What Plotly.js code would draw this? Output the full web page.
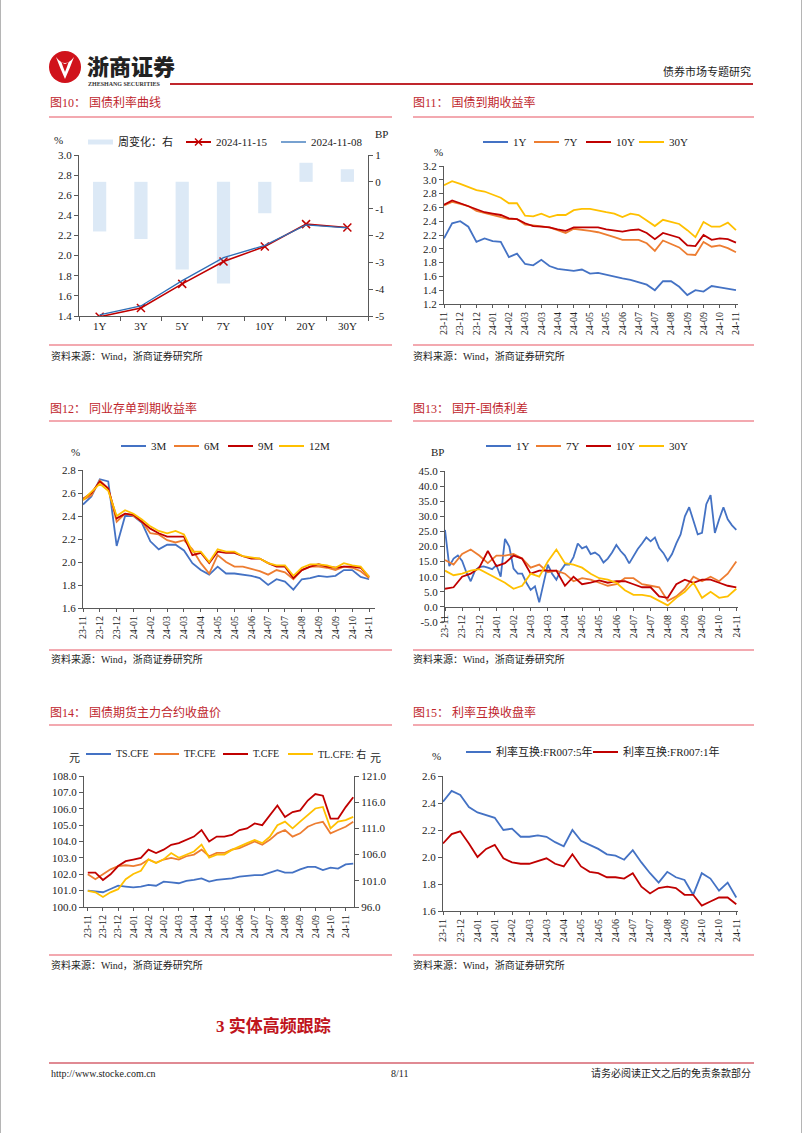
<!DOCTYPE html>
<html><head><meta charset="utf-8">
<script src="https://cdn.plot.ly/plotly-3.0.1.min.js"></script>
<style>
body{margin:0;background:#fff;}
#page{position:relative;width:802px;height:1133px;overflow:hidden;background:#fff;box-sizing:border-box;border-left:1px solid #b5b5b5;border-right:1px solid #b5b5b5;font-family:'Liberation Serif','Noto Sans CJK SC',serif;}
.abs{position:absolute;white-space:nowrap;line-height:1;}
.ttl{color:#c0262d;font-size:12px;}
.uline{position:absolute;height:2px;background:#f3a9b0;}
.src{font-size:10px;color:#222;}
.chart{position:absolute;}
</style></head>
<body><div id="page">
<!-- header -->
<svg class="abs" style="left:47px;top:50px" width="34" height="34" viewBox="0 0 34 34">
<circle cx="17" cy="17" r="16" fill="#d0121b"/>
<path d="M8 7 Q17 19 26 7 Q22 18 17 29 Q12 18 8 7Z" fill="#fff"/>
<path d="M13 11 Q17 17 21 11 Q19 17 17 22 Q15 17 13 11Z" fill="#d0121b"/>
</svg>
<div class="abs" style="left:86px;top:54px;font-family:'Noto Sans CJK SC';font-weight:900;font-size:22px;color:#222;">浙商证券</div>
<div class="abs" style="left:87px;top:81px;font-family:'Liberation Serif';font-weight:bold;font-size:6px;color:#333;">ZHESHANG SECURITIES</div>
<div class="abs" style="left:169px;top:83px;width:583px;height:2px;background:#c0262d;"></div>
<div class="abs" style="right:50px;top:67px;font-size:11px;color:#222;">债券市场专题研究</div>

<!-- row 1 -->
<div class="abs ttl" style="left:49px;top:97px;">图10：&nbsp;国债利率曲线</div>
<div class="uline" style="left:48px;top:116px;width:343px;"></div>
<div class="abs ttl" style="left:412px;top:97px;">图11：&nbsp;国债到期收益率</div>
<div class="uline" style="left:412px;top:116px;width:341px;"></div>
<div id="c10" class="chart"></div>
<div id="c11" class="chart"></div>
<div class="uline" style="left:48px;top:344px;width:343px;"></div>
<div class="uline" style="left:412px;top:344px;width:341px;"></div>
<div class="abs src" style="left:50px;top:352px;">资料来源：Wind，浙商证券研究所</div>
<div class="abs src" style="left:412px;top:352px;">资料来源：Wind，浙商证券研究所</div>

<!-- row 2 -->
<div class="abs ttl" style="left:49px;top:403px;">图12：&nbsp;同业存单到期收益率</div>
<div class="uline" style="left:48px;top:420px;width:343px;"></div>
<div class="abs ttl" style="left:412px;top:403px;">图13：&nbsp;国开-国债利差</div>
<div class="uline" style="left:412px;top:420px;width:341px;"></div>
<div id="c12" class="chart"></div>
<div id="c13" class="chart"></div>
<div class="uline" style="left:48px;top:649px;width:343px;"></div>
<div class="uline" style="left:412px;top:649px;width:341px;"></div>
<div class="abs src" style="left:50px;top:655px;">资料来源：Wind，浙商证券研究所</div>
<div class="abs src" style="left:412px;top:655px;">资料来源：Wind，浙商证券研究所</div>

<!-- row 3 -->
<div class="abs ttl" style="left:49px;top:707px;">图14：&nbsp;国债期货主力合约收盘价</div>
<div class="uline" style="left:48px;top:724px;width:343px;"></div>
<div class="abs ttl" style="left:412px;top:707px;">图15：&nbsp;利率互换收盘率</div>
<div class="uline" style="left:412px;top:724px;width:341px;"></div>
<div id="c14" class="chart"></div>
<div id="c15" class="chart"></div>
<div class="uline" style="left:48px;top:954px;width:343px;"></div>
<div class="uline" style="left:412px;top:954px;width:341px;"></div>
<div class="abs src" style="left:50px;top:961px;">资料来源：Wind，浙商证券研究所</div>
<div class="abs src" style="left:412px;top:961px;">资料来源：Wind，浙商证券研究所</div>

<!-- section + footer -->
<div class="abs" style="left:215px;top:1018px;font-size:17px;font-weight:bold;color:#c0141c;font-family:'Liberation Serif','Noto Sans CJK SC';">3 实体高频跟踪</div>
<div class="abs" style="left:48px;top:1062px;width:705px;height:1.5px;background:#e08a93;"></div>
<div class="abs src" style="left:50px;top:1069px;">http://www.stocke.com.cn</div>
<div class="abs src" style="left:390px;top:1069px;">8/11</div>
<div class="abs src" style="right:50px;top:1069px;">请务必阅读正文之后的免责条款部分</div>
</div>
<script>
// ---------------- DATA ----------------
// 图10
const c10_tenors = ['1Y','3Y','5Y','7Y','10Y','20Y','30Y'];
const c10_change = [-1.85,-2.13,-3.27,-3.79,-1.17,0.71,0.47];
const c10_y1115 = [1.393,1.479,1.719,1.942,2.090,2.313,2.280];
const c10_y1108 = [1.411,1.500,1.752,1.980,2.102,2.306,2.275];
const c10_rticks = [1,0,-1,-2,-3,-4,-5];
const c10_rtext = ['1','0','-1','-2','-3','-4','-5'];

// 图11
const c11_labels = ['23-11','23-12','23-12','24-01','24-02','24-03','24-03','24-04','24-04','24-05','24-05','24-06','24-07','24-07','24-08','24-09','24-09','24-10','24-11'];
const c11_1y  = [2.15,2.37,2.40,2.32,2.10,2.15,2.11,2.10,1.88,1.93,1.78,1.76,1.84,1.75,1.71,1.69,1.68,1.70,1.64,1.65,1.62,1.60,1.57,1.55,1.52,1.48,1.40,1.53,1.53,1.45,1.33,1.40,1.38,1.46,1.44,1.42,1.40];
const c11_7y  = [2.63,2.68,2.65,2.62,2.55,2.52,2.50,2.47,2.43,2.43,2.35,2.34,2.33,2.31,2.27,2.23,2.29,2.28,2.26,2.24,2.21,2.17,2.13,2.13,2.13,2.08,1.97,2.12,2.07,2.02,1.92,1.91,2.10,2.03,2.05,2.01,1.95];
const c11_10y = [2.64,2.70,2.66,2.62,2.57,2.53,2.51,2.49,2.44,2.43,2.37,2.33,2.32,2.31,2.28,2.26,2.31,2.31,2.32,2.31,2.28,2.26,2.25,2.27,2.28,2.23,2.14,2.23,2.19,2.16,2.05,2.04,2.20,2.13,2.15,2.14,2.09];
const c11_30y = [2.92,2.98,2.94,2.90,2.85,2.83,2.79,2.74,2.66,2.66,2.48,2.47,2.51,2.46,2.49,2.49,2.56,2.58,2.58,2.55,2.53,2.51,2.46,2.51,2.49,2.41,2.33,2.42,2.39,2.36,2.27,2.17,2.39,2.32,2.32,2.38,2.27];

// 图12
const c12_labels = ['23-11','23-12','23-12','24-01','24-02','24-03','24-03','24-04','24-05','24-05','24-06','24-07','24-07','24-08','24-09','24-09','24-10','24-11'];
const c12_3m  = [2.50,2.57,2.72,2.70,2.14,2.40,2.40,2.34,2.18,2.11,2.15,2.15,2.10,1.99,1.93,1.89,1.96,1.90,1.90,1.89,1.88,1.86,1.80,1.85,1.83,1.76,1.85,1.86,1.88,1.87,1.88,1.93,1.93,1.87,1.85];
const c12_6m  = [2.54,2.58,2.71,2.64,2.35,2.42,2.40,2.35,2.25,2.24,2.19,2.17,2.19,2.11,1.99,1.90,2.06,2.00,1.96,1.96,1.94,1.92,1.89,1.93,1.91,1.85,1.93,1.96,1.96,1.95,1.93,1.96,1.95,1.92,1.86];
const c12_9m  = [2.55,2.60,2.70,2.64,2.38,2.42,2.41,2.35,2.29,2.25,2.22,2.22,2.22,2.06,2.08,1.99,2.09,2.08,2.08,2.05,2.03,2.03,1.99,1.96,1.96,1.86,1.93,1.96,1.98,1.96,1.95,1.96,1.96,1.95,1.87];
const c12_12m = [2.54,2.61,2.68,2.62,2.40,2.45,2.42,2.37,2.31,2.27,2.25,2.27,2.24,2.09,2.09,2.00,2.11,2.09,2.09,2.05,2.04,2.03,1.99,1.97,1.97,1.88,1.95,1.98,1.98,1.97,1.95,1.99,1.97,1.96,1.87];

// 图13 (1Y read at quarter-label spacing, others at half-label spacing)
const c13_labels = ['23-11','23-12','23-12','24-01','24-02','24-03','24-03','24-04','24-05','24-05','24-06','24-07','24-07','24-08','24-09','24-09','24-10','24-11'];
const c13_1y  = [25.5,13.5,16,17,15.2,11.4,8.5,12,13.2,13.4,13,12.5,13.8,10,22.5,20,12.7,11,11,8,5.6,6.8,1.5,8,14,11,9,12,14,14,16.5,21,19.4,20,17.5,18,17,14.7,16,18,20.5,18.5,17,14.4,17,19.2,21,23,21.7,23,19.5,17.8,15.3,17.5,21,24,30,33,28.5,24,24.5,34,37,24.5,29,33,29,27,25.5];
const c13_7y  = [15.5,14,17.5,19,17,14.5,17,17,17.5,16,13,14,11.5,12,11,8.5,9.5,9,8,7,7.5,9.5,9.5,7.5,7,6.5,2,3.5,6,10,8.5,10,8.5,11,15];
const c13_10y = [6,6.5,10,11,13,18.5,13.5,14.5,17,16,11,12,12,12,7,10,7.5,8,8.8,8,8.5,8.5,7.5,6.5,6.5,3.5,3,7.5,9,8,9,9,8,7,6.5];
const c13_30y = [12,10.5,11,12,12.5,11,9.5,8,6,7,11,10,15,19,14.5,14,13,11,9.5,9,8,5.5,4,4,3.5,2,0.5,3,5,8,3,5,3,3.5,6];
const c13_yticks = [-5,0,5,10,15,20,25,30,35,40,45];
const c13_ytext = ['-5.0','0.0','5.0','10.0','15.0','20.0','25.0','30.0','35.0','40.0','45.0'];

// 图14
const c14_labels = ['23-11','23-12','23-12','24-01','24-02','24-02','24-03','24-04','24-04','24-05','24-06','24-07','24-07','24-08','24-09','24-09','24-10','24-11'];
const c14_ts = [101.0,100.95,100.9,101.1,101.3,101.25,101.2,101.25,101.35,101.3,101.55,101.5,101.45,101.6,101.65,101.75,101.55,101.65,101.7,101.75,101.85,101.9,101.95,101.95,102.1,102.25,102.1,102.1,102.3,102.45,102.45,102.25,102.4,102.35,102.6,102.65];
const c14_tf = [102.0,101.7,102.0,102.3,102.5,102.55,102.5,102.6,102.9,102.7,102.9,103.0,102.9,103.1,103.2,103.5,103.1,103.3,103.3,103.5,103.6,103.8,104.0,103.8,104.1,104.5,104.7,104.3,104.5,104.9,105.1,105.2,104.5,104.7,104.9,105.2];
const c14_t  = [102.1,102.1,101.65,102.0,102.5,102.8,102.9,103.0,103.5,103.3,103.5,103.8,103.9,104.1,104.3,104.7,104.0,104.3,104.3,104.4,104.7,104.8,105.1,105.0,105.6,106.2,105.5,105.8,105.9,106.5,106.9,106.8,105.4,105.4,106.1,106.7];
const c14_tl = [99.1,98.8,97.9,98.8,99.4,101.3,102.3,102.9,105.1,104.4,105.1,106.3,105.4,106.0,106.6,107.9,105.4,106.0,106.0,106.9,107.6,108.2,108.8,108.2,109.4,111.6,112.3,111.0,112.3,113.5,114.8,115.1,111.0,112.3,112.6,113.2];

// 图15
const c15_labels = ['23-11','23-12','24-01','24-01','24-02','24-03','24-03','24-04','24-05','24-05','24-06','24-07','24-07','24-08','24-09','24-10','24-10','24-11'];
const c15_5y = [2.41,2.49,2.46,2.37,2.33,2.31,2.29,2.20,2.21,2.15,2.15,2.16,2.15,2.11,2.08,2.20,2.12,2.09,2.06,2.02,2.01,1.98,2.05,1.96,1.88,1.81,1.89,1.85,1.83,1.72,1.88,1.84,1.75,1.81,1.70];
const c15_1y = [2.10,2.17,2.19,2.10,2.00,2.06,2.09,1.99,1.96,1.95,1.95,1.97,1.99,1.95,1.93,2.02,1.93,1.89,1.88,1.85,1.85,1.84,1.88,1.78,1.73,1.77,1.78,1.77,1.72,1.72,1.64,1.67,1.70,1.70,1.65];

// ---------------- STYLE / HELPERS ----------------
const FONT = "'Liberation Serif','Times New Roman','Noto Sans CJK SC',serif";
const BLUE='#4472c4', ORANGE='#ed7d31', DRED='#c00000', GOLD='#ffc000';
const AX='#595959';
const CFG = {staticPlot:true, displayModeBar:false};

function idx(a, step){ return a.map((_,i)=>i*(step||1)); }
function setup(id, div, plot){
  const el=document.getElementById(id);
  el.style.left=div[0]+'px'; el.style.top=div[1]+'px';
  el.style.width=div[2]+'px'; el.style.height=div[3]+'px';
  return {el, L:plot[0], T:plot[1], R:plot[2], B:plot[3],
    margin:{l:plot[0]-div[0], t:plot[1]-div[1], r:div[0]+div[2]-plot[2], b:div[1]+div[3]-plot[3], pad:0},
    width:div[2], height:div[3]};
}
function px(b, x, y){ return {x:(x-b.L)/(b.R-b.L), y:(b.B-y)/(b.B-b.T)}; }
function ann(b, text, x, y, size, anchor){
  const p=px(b,x,y);
  return {xref:'paper', yref:'paper', x:p.x, y:p.y, text, showarrow:false, xanchor:anchor||'center', yanchor:'middle',
    font:{family:FONT, size:size||11, color:'#222'}};
}
// Legend drawn as shapes + annotations: each item = [leftX(px), name, color, kind]
function legend(b, y, items, size){
  const shapes=[], anns=[];
  items.forEach(([x,name,color,kind])=>{
    const a=px(b,x,y), c=px(b,x+25,y);
    if(kind==='bar'){
      const t=px(b,x,y-2.5), u=px(b,x+25,y+2.5);
      shapes.push({type:'rect', xref:'paper', yref:'paper', x0:t.x, x1:u.x, y0:u.y, y1:t.y, fillcolor:color, line:{width:0}});
    } else {
      shapes.push({type:'line', xref:'paper', yref:'paper', x0:a.x, x1:c.x, y0:a.y, y1:a.y, line:{color, width:kind==='thin'?1.3:2}});
      if(kind==='x'){
        const p1=px(b,x+9,y-3.5), p2=px(b,x+16,y+3.5);
        shapes.push({type:'line', xref:'paper', yref:'paper', x0:p1.x, x1:p2.x, y0:p1.y, y1:p2.y, line:{color, width:1.4}});
        shapes.push({type:'line', xref:'paper', yref:'paper', x0:p1.x, x1:p2.x, y0:p2.y, y1:p1.y, line:{color, width:1.4}});
      }
    }
    anns.push(ann(b,name,x+28,y,size||11,'left'));
  });
  return {shapes, anns};
}
function ax(o){
  return Object.assign({showline:true, linecolor:AX, linewidth:1, ticks:'outside', ticklen:4, tickcolor:AX,
    showgrid:false, zeroline:false, tickfont:{family:FONT, size:11, color:'#222'}, fixedrange:true}, o);
}
function timeX(labels, range){
  return ax({range, tickmode:'array', tickvals:labels.map((_,k)=>2*k), ticktext:labels, tickangle:-90,
    ticklen:3, tickfont:{family:FONT, size:10, color:'#222'}});
}
function line(y, name, color, extra, step){
  return Object.assign({type:'scatter', mode:'lines', x:idx(y,step), y, name, line:{color, width:1.8}}, extra||{});
}
function base(b, extra){
  return Object.assign({width:b.width, height:b.height, margin:b.margin, paper_bgcolor:'rgba(0,0,0,0)',
    plot_bgcolor:'rgba(0,0,0,0)', showlegend:false, font:{family:FONT, size:11, color:'#222'}}, extra);
}

// ---------------- 图10 ----------------
(function(){
  const b=setup('c10',[40,125,360,215],[78,155,367,316]);
  const traces=[
    {type:'bar', x:c10_tenors, y:c10_change, name:'周变化：右', marker:{color:'#dce9f6'}, width:0.32, yaxis:'y'},
    {type:'scatter', mode:'lines+markers', x:c10_tenors, y:c10_y1115, name:'2024-11-15', yaxis:'y2',
      line:{color:DRED, width:1.6}, marker:{symbol:'x-thin', size:8, line:{color:DRED, width:1.5}, color:DRED}},
    {type:'scatter', mode:'lines', x:c10_tenors, y:c10_y1108, name:'2024-11-08', yaxis:'y2',
      line:{color:'#2e6fb7', width:1.3}}
  ];
  const lg=legend(b,142,[[87,traces[0].name,'#dce9f6','bar'],[185,traces[1].name,DRED,'x'],[280,traces[2].name,'#2e6fb7','thin']]);
  const layout=base(b,{
    xaxis:ax({type:'category', tickson:'boundaries', ticklen:4}),
    yaxis:ax({side:'right', range:[-5,1], tickmode:'array', tickvals:c10_rticks, ticktext:c10_rtext}),
    yaxis2:ax({overlaying:'y', side:'left', range:[1.4,3.0], dtick:0.2, tick0:1.4, tickformat:'.1f'}),
    shapes:lg.shapes,
    annotations:[ann(b,'%',57,140), ann(b,'BP',380,134)].concat(lg.anns)
  });
  Plotly.newPlot(b.el,traces,layout,CFG);
})();

// ---------------- 图11 ----------------
(function(){
  const b=setup('c11',[405,125,350,218],[443,166,737,304]);
  const traces=[line(c11_1y,'1Y',BLUE), line(c11_7y,'7Y',ORANGE), line(c11_10y,'10Y',DRED), line(c11_30y,'30Y',GOLD)];
  const lg=legend(b,142,[[482,'1Y',BLUE],[533,'7Y',ORANGE],[585,'10Y',DRED],[638,'30Y',GOLD]]);
  const layout=base(b,{
    xaxis:timeX(c11_labels,[0,36.25]),
    yaxis:ax({range:[1.2,3.2], dtick:0.2, tick0:1.2, tickformat:'.1f'}),
    shapes:lg.shapes,
    annotations:[ann(b,'%',437,152)].concat(lg.anns)
  });
  Plotly.newPlot(b.el,traces,layout,CFG);
})();

// ---------------- 图12 ----------------
(function(){
  const b=setup('c12',[40,425,355,220],[82,470,374,608]);
  const traces=[line(c12_3m,'3M',BLUE), line(c12_6m,'6M',ORANGE), line(c12_9m,'9M',DRED), line(c12_12m,'12M',GOLD)];
  const lg=legend(b,446,[[120,'3M',BLUE],[173,'6M',ORANGE],[227,'9M',DRED],[278,'12M',GOLD]]);
  const layout=base(b,{
    xaxis:timeX(c12_labels,[0,34.7]),
    yaxis:ax({range:[1.6,2.8], dtick:0.2, tick0:1.6, tickformat:'.1f'}),
    shapes:lg.shapes,
    annotations:[ann(b,'%',74,452)].concat(lg.anns)
  });
  Plotly.newPlot(b.el,traces,layout,CFG);
})();

// ---------------- 图13 ----------------
(function(){
  const b=setup('c13',[405,425,350,222],[444,471,737,622]);
  const traces=[line(c13_1y,'1Y',BLUE,null,0.5), line(c13_7y,'7Y',ORANGE), line(c13_10y,'10Y',DRED), line(c13_30y,'30Y',GOLD)];
  const lg=legend(b,446,[[485,'1Y',BLUE],[535,'7Y',ORANGE],[585,'10Y',DRED],[638,'30Y',GOLD]]);
  const xa=timeX(c13_labels,[0,34.2]);
  xa.anchor='free'; xa.position=0.1;
  const layout=base(b,{
    xaxis:xa,
    yaxis:ax({range:[-5,45], tickmode:'array', tickvals:c13_yticks, ticktext:c13_ytext}),
    shapes:lg.shapes,
    annotations:[ann(b,'BP',436,452)].concat(lg.anns)
  });
  Plotly.newPlot(b.el,traces,layout,CFG);
})();

// ---------------- 图14 ----------------
(function(){
  const b=setup('c14',[40,730,355,225],[83,776,353,907]);
  const traces=[line(c14_ts,'TS.CFE',BLUE), line(c14_tf,'TF.CFE',ORANGE), line(c14_t,'T.CFE',DRED), line(c14_tl,'TL.CFE: 右',GOLD,{yaxis:'y2'})];
  const lg=legend(b,754,[[85,'TS.CFE',BLUE],[153,'TF.CFE',ORANGE],[222,'T.CFE',DRED],[287,'TL.CFE: 右',GOLD]],10);
  const layout=base(b,{
    xaxis:timeX(c14_labels,[-0.5,35.1]),
    yaxis:ax({range:[100,108], dtick:1, tick0:100, tickformat:'.1f'}),
    yaxis2:ax({overlaying:'y', side:'right', range:[96,121], dtick:5, tick0:96, tickformat:'.1f'}),
    shapes:lg.shapes,
    annotations:[ann(b,'元',73,758), ann(b,'元',374,758)].concat(lg.anns)
  });
  Plotly.newPlot(b.el,traces,layout,CFG);
})();

// ---------------- 图15 ----------------
(function(){
  const b=setup('c15',[405,730,350,225],[442,776,737,911]);
  const traces=[line(c15_5y,'利率互换:FR007:5年',BLUE), line(c15_1y,'利率互换:FR007:1年',DRED)];
  const lg=legend(b,752,[[465,traces[0].name,BLUE],[592,traces[1].name,DRED]]);
  const layout=base(b,{
    xaxis:timeX(c15_labels,[0,34.2]),
    yaxis:ax({range:[1.6,2.6], dtick:0.2, tick0:1.6, tickformat:'.1f'}),
    shapes:lg.shapes,
    annotations:[ann(b,'%',435,756)].concat(lg.anns)
  });
  Plotly.newPlot(b.el,traces,layout,CFG);
})();
</script>
</body></html>
